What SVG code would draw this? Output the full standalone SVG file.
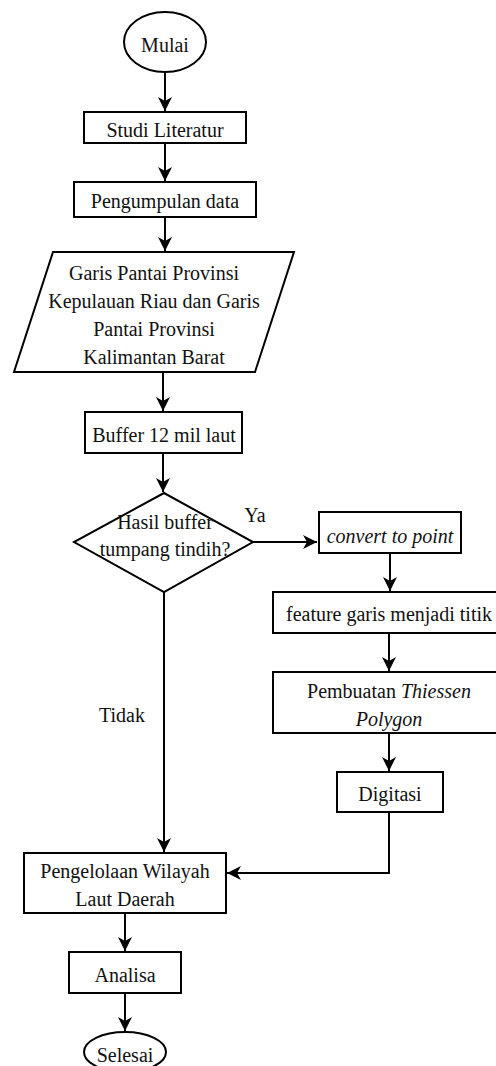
<svg xmlns="http://www.w3.org/2000/svg" width="496" height="1066" viewBox="0 0 496 1066">
<defs>
<style>
.s{fill:#fff;stroke:#000;stroke-width:2}
.t{font-family:"Liberation Serif","Times New Roman",serif;font-size:20px;fill:#111;text-anchor:middle}
.i{font-style:italic}
.c{fill:none;stroke:#000;stroke-width:2}
</style>
<marker id="arr" markerUnits="userSpaceOnUse" markerWidth="16" markerHeight="16" refX="14" refY="7" orient="auto">
<path d="M0,0 L14,7 L0,14 L4,7 Z" fill="#000"/>
</marker>
</defs>
<rect width="496" height="1066" fill="#fff"/>
<g id="connectors">
<path class="c" d="M165,72 L165,111" marker-end="url(#arr)"/>
<path class="c" d="M165,143 L165,181" marker-end="url(#arr)"/>
<path class="c" d="M165,217 L165,251" marker-end="url(#arr)"/>
<path class="c" d="M163,372 L163,411" marker-end="url(#arr)"/>
<path class="c" d="M163,453 L163,492" marker-end="url(#arr)"/>
<path class="c" d="M253,542 L317,542" marker-end="url(#arr)"/>
<path class="c" d="M390,553 L390,591" marker-end="url(#arr)"/>
<path class="c" d="M389,633 L389,671" marker-end="url(#arr)"/>
<path class="c" d="M389,733 L389,771" marker-end="url(#arr)"/>
<path class="c" d="M389,812 L389,873 L227,873" marker-end="url(#arr)"/>
<path class="c" d="M164,592 L164,852" marker-end="url(#arr)"/>
<path class="c" d="M125,913 L125,951" marker-end="url(#arr)"/>
<path class="c" d="M125,993 L125,1031" marker-end="url(#arr)"/>
<text class="t" x="255" y="522">Ya</text>
<text class="t" x="122" y="722">Tidak</text>
</g>
<g id="mulai">
<ellipse class="s" cx="165" cy="42" rx="41" ry="30"/>
<text class="t" x="165" y="52">Mulai</text>
</g>
<g id="studi">
<rect class="s" x="84" y="112" width="162" height="31"/>
<text class="t" x="165" y="137">Studi Literatur</text>
</g>
<g id="pengumpulan">
<rect class="s" x="74" y="182" width="182" height="35"/>
<text class="t" x="165" y="208">Pengumpulan data</text>
</g>
<g id="data">
<polygon class="s" points="53,252 294,252 255,372 14,372"/>
<text class="t" x="154" y="280">Garis Pantai Provinsi</text>
<text class="t" x="154" y="308">Kepulauan Riau dan Garis</text>
<text class="t" x="154" y="336">Pantai Provinsi</text>
<text class="t" x="154" y="364">Kalimantan Barat</text>
</g>
<g id="buffer">
<rect class="s" x="85" y="412" width="157" height="41"/>
<text class="t" x="164" y="442">Buffer 12 mil laut</text>
</g>
<g id="decision">
<polygon class="s" points="164,493 253,542 164,592 74,542"/>
<text class="t" x="165" y="529">Hasil buffer</text>
<text class="t" x="165" y="556">tumpang tindih?</text>
</g>
<g id="convert">
<rect class="s" x="319" y="512" width="142" height="41"/>
<text class="t i" x="390" y="543">convert to point</text>
</g>
<g id="feature">
<rect class="s" x="273" y="592" width="232" height="41"/>
<text class="t" x="389" y="621">feature garis menjadi titik</text>
</g>
<g id="thiessen">
<rect class="s" x="273" y="672" width="232" height="61"/>
<text class="t" x="389" y="698">Pembuatan <tspan class="i">Thiessen</tspan></text>
<text class="t i" x="389" y="726">Polygon</text>
</g>
<g id="digitasi">
<rect class="s" x="337" y="772" width="106" height="40"/>
<text class="t" x="390" y="801">Digitasi</text>
</g>
<g id="pengelolaan">
<rect class="s" x="24" y="853" width="202" height="60"/>
<text class="t" x="125" y="878">Pengelolaan Wilayah</text>
<text class="t" x="125" y="906">Laut Daerah</text>
</g>
<g id="analisa">
<rect class="s" x="69" y="952" width="112" height="41"/>
<text class="t" x="125" y="982">Analisa</text>
</g>
<g id="selesai">
<ellipse class="s" cx="125" cy="1052" rx="41" ry="20"/>
<text class="t" x="125" y="1062">Selesai</text>
</g>
</svg>
